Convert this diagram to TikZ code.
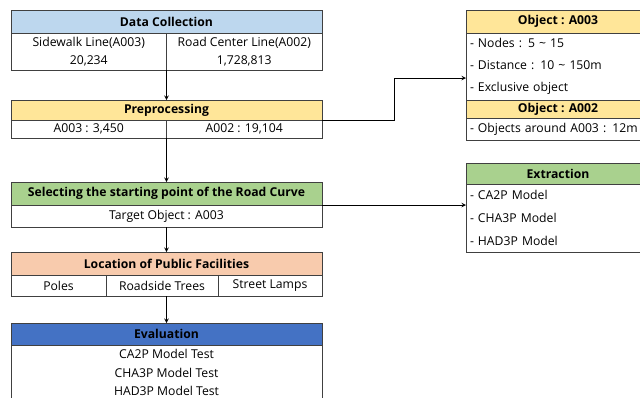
\documentclass[tikz,border=0pt]{standalone}
\usepackage{fontspec}
\setmainfont{Open Sans}
\usetikzlibrary{positioning}
\tikzset{>=stealth}
\definecolor{edge}{HTML}{404040}
\definecolor{dcblue}{HTML}{BDD7EE}
\definecolor{ppyellow}{HTML}{FFE699}
\definecolor{spgreen}{HTML}{A9D18E}
\definecolor{lporange}{HTML}{F8CBAD}
\definecolor{evblue}{HTML}{4472C4}

\begin{document}
\begin{tikzpicture}[x=1pt,y=-1pt,
    head/.style={draw=edge,line width=.8pt,outer sep=0pt,inner sep=0pt,anchor=north west,
      font=\fontsize{12.2}{13}\selectfont\bfseries},
    cell/.style={draw=edge,line width=.8pt,outer sep=0pt,inner sep=0pt,anchor=north west,
      align=center,font=\fontsize{12.2}{18}\selectfont},
    list/.style={cell,align=left,text width=176pt,inner xsep=4pt},
    flow/.style={->,line width=1pt}]
    \clip (0,0) rectangle (640,397);
    \fill[white] (0,0) rectangle (640,397);
    % left column
    \node[head,fill=dcblue,minimum width=311pt,minimum height=23pt] (dch) at (11,10) {Data Collection};
    \node[cell,minimum width=155.5pt,minimum height=37pt] (dcl) at (dch.south west) {Sidewalk Line(A003)\\20,234};
    \node[cell,minimum width=155.5pt,minimum height=37pt] (dcr) at (dcl.north east) {Road Center Line(A002)\\1,728,813};
    \node[head,fill=ppyellow,minimum width=311pt,minimum height=20pt] (pph) at (11,100) {Preprocessing};
    \node[cell,minimum width=155.5pt,minimum height=18pt] (ppl) at (pph.south west) {A003 : 3,450};
    \node[cell,minimum width=155.5pt,minimum height=18pt] (ppr) at (ppl.north east) {A002 : 19,104};
    \node[head,fill=spgreen,minimum width=311pt,minimum height=23pt] (sph) at (11,182) {Selecting the starting point of the Road Curve};
    \node[cell,minimum width=311pt,minimum height=22pt] (sp) at (sph.south west) {Target Object : A003};
    \node[head,fill=lporange,minimum width=311pt,minimum height=23pt] (lph) at (11,252) {Location of Public Facilities};
    \node[cell,minimum width=95pt,minimum height=21pt] (lpl) at (lph.south west) {Poles};
    \node[cell,minimum width=112pt,minimum height=21pt] (lpm) at (lpl.north east) {Roadside Trees};
    \node[cell,minimum width=104pt,minimum height=21pt] (lpr) at (lpm.north east) {Street Lamps};
    \node[head,fill=evblue,minimum width=311pt,minimum height=22pt] (evh) at (11,323) {Evaluation};
    \node[cell,minimum width=311pt,minimum height=55pt,font=\fontsize{12.2}{18.5}\selectfont] (ev) at (evh.south west)
      {CA2P Model Test\\CHA3P Model Test\\HAD3P Model Test};
    % right column
    \node[head,fill=ppyellow,minimum width=184pt,minimum height=23pt] (oa3h) at (466,10) {Object : A003};
    \node[list,minimum height=67pt,font=\fontsize{12.2}{22}\selectfont] (oa3) at (oa3h.south west)
      {- Nodes : 5 \textasciitilde{} 15\\- Distance : 10 \textasciitilde{} 150m\\- Exclusive object};
    \node[head,fill=ppyellow,minimum width=184pt,minimum height=18pt] (oa2h) at (oa3.south west) {Object : A002};
    \node[list,minimum height=22pt] (oa2) at (oa2h.south west) {- Objects around A003 : 12m};
    \node[head,fill=spgreen,minimum width=184pt,minimum height=21pt] (exh) at (466,163) {Extraction};
    \node[list,minimum height=68pt,font=\fontsize{12.2}{23}\selectfont] (ex) at (exh.south west)
      {- CA2P Model\\- CHA3P Model\\- HAD3P Model};
    % connectors
    \draw[flow] (dcl.south east) -- (pph.north);
    \draw[flow] (ppl.south east) -- (sph.north);
    \draw[flow] (sp.south) -- (lph.north);
    \draw[flow] (lpm.south -| evh.north) -- (evh.north);
    \draw[flow] (pph.south east) -- ++(72,0) |- ([yshift=-11.5pt]oa3.west);
    \draw[flow] (sph.south east) -- (sph.south east -| ex.west);
\end{tikzpicture}
\end{document}
